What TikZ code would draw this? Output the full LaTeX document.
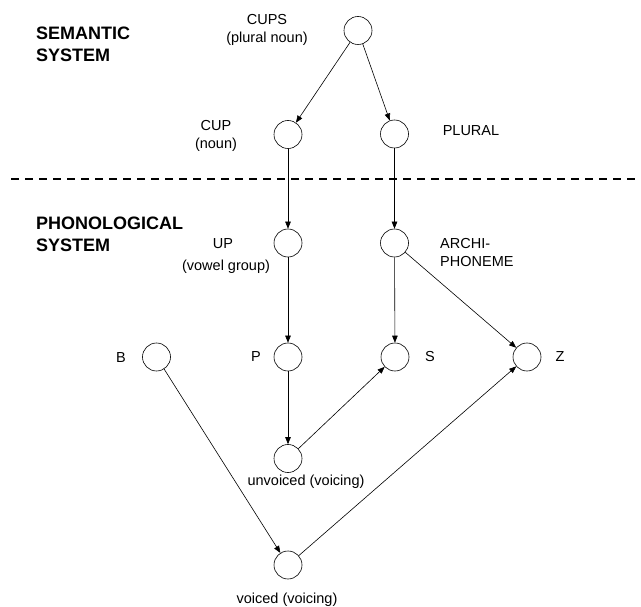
\documentclass[tikz,border=0pt]{standalone}
\usepackage{fontspec}
\setmainfont{Liberation Sans}
\usetikzlibrary{arrows.meta}
\tikzset{
  unitnode/.style={circle,draw,line width=0.6pt,minimum size=28pt,inner sep=0pt},
  lbl/.style={inner sep=0pt,font=\fontsize{14.5}{18}\selectfont,align=center},
  syslbl/.style={inner sep=0pt,anchor=west,align=left,font=\fontsize{18}{22}\selectfont\bfseries},
  link/.style={line width=0.6pt,-{Triangle[length=7pt,width=5.5pt]}}
}
\begin{document}
\begin{tikzpicture}[x=1pt,y=-1pt]
      \useasboundingbox (0,0) rectangle (641,607);
      \draw
        (358,30.5) node[unitnode] (cups){}
        (288,134.5) node[unitnode] (cup){}
        (394.5,134) node[unitnode] (plural){}
        (288,243) node[unitnode] (up){}
        (394.5,243) node[unitnode] (archi){}
        (156.5,357) node[unitnode] (b){}
        (288,357) node[unitnode] (p){}
        (395,357) node[unitnode] (s){}
        (527,357) node[unitnode] (z){}
        (288,458.5) node[unitnode] (unv){}
        (288,565) node[unitnode] (voi){};
      % labels
      \draw
        (36,44) node[syslbl] (sem){SEMANTIC\\SYSTEM}
        (36,234) node[syslbl] (phon){PHONOLOGICAL\\SYSTEM}
        (267,30) node[lbl] (cupsL){CUPS\\(plural noun)}
        (216,136) node[lbl] (cupL){CUP\\(noun)}
        (471,131) node[lbl] (pluralL){PLURAL}
        (223,244) node[lbl] (upL){UP}
        (226,267) node[lbl] (vowelL){(vowel group)}
        (440,252.5) node[lbl,anchor=west,align=left] (archiL){ARCHI-\\PHONEME}
        (121,358) node[lbl] (bL){B}
        (256,357) node[lbl] (pL){P}
        (430,357) node[lbl] (sL){S}
        (560,357) node[lbl] (zL){Z}
        (306,482) node[lbl] (unvL){unvoiced (voicing)}
        (287,600) node[lbl] (voiL){voiced (voicing)};
      % border between the two systems
      \coordinate (divL) at (11,179);
      \coordinate (divR) at (641,179);
      \draw[line width=1.5pt,dash pattern=on 8pt off 6pt] (divL) -- (divR);
      \begin{scope}[link]
        \draw (cups) to (cup);
        \draw (cups) to (plural);
        \draw (cup) to (up);
        \draw (plural) to (archi);
        \draw (up) to (p);
        \draw (archi) to (s);
        \draw (archi) to (z);
        \draw (p) to (unv);
        \draw (unv) to (s);
        \draw (b) to (voi);
        \draw (voi) to (z);
      \end{scope}
    \end{tikzpicture}
\end{document}
